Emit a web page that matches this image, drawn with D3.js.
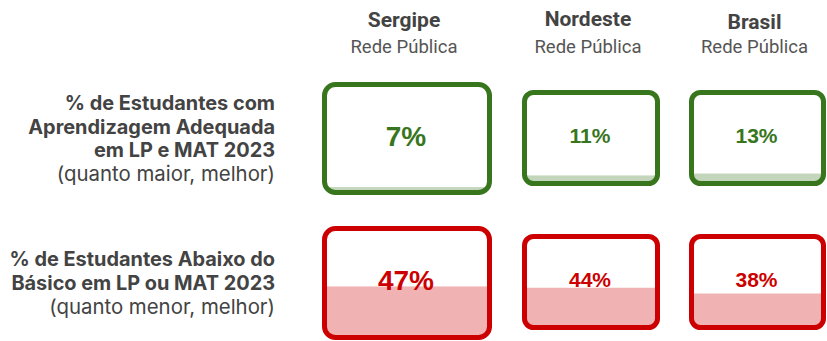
<!DOCTYPE html>
<html>
<head>
<meta charset="utf-8">
<script src="https://cdn.jsdelivr.net/npm/d3@7"></script>
<style>
  body { margin: 0; background: #fff; }
  svg { display: block; }
</style>
</head>
<body>
<svg id="chart" width="827" height="341"></svg>
<script>
// Indicator values by region (percent of public-school students)
const regions = ["Sergipe", "Nordeste", "Brasil"];
const networks = ["Rede Pública", "Rede Pública", "Rede Pública"];
const adequate = [7, 11, 13];      // aprendizagem adequada em LP e MAT
const belowBasic = [47, 44, 38];   // abaixo do básico em LP ou MAT
const rowTitles = [
  ["% de Estudantes com", "Aprendizagem Adequada", "em LP e MAT 2023"],
  ["% de Estudantes Abaixo do", "Básico em LP ou MAT 2023"]
];
const rowNotes = ["(quanto maior, melhor)", "(quanto menor, melhor)"];

// Layout
const colLeft = [322, 522, 689];
const colWidth = [170, 138, 137];
const headBase = [27, 26, 29];
const rows = [
  { values: adequate, stroke: "#38761d", focal: [82, 195], other: [90, 186],
    titleBase: 110, lineGap: 23.5 },
  { values: belowBasic, stroke: "#cc0000", focal: [226, 340], other: [234, 330],
    titleBase: 266, lineGap: 24 }
];
const sw = 5;

const svg = d3.select("#chart");
const defs = svg.append("defs");

// Column headers
const head = svg.append("g");
regions.forEach((r, i) => {
  const cx = colLeft[i] + colWidth[i] / 2 - 3;
  head.append("text")
    .attr("x", cx).attr("y", headBase[i])
    .attr("text-anchor", "middle")
    .style("font-family", "Roboto, sans-serif")
    .style("font-weight", 700).style("font-size", "21px")
    .style("fill", "#434343")
    .text(r);
  head.append("text")
    .attr("x", cx).attr("y", 53)
    .attr("text-anchor", "middle")
    .style("font-family", "Roboto, sans-serif")
    .style("font-weight", 400).style("font-size", "18.5px")
    .style("fill", "#555")
    .text(networks[i]);
});

// Row labels
rows.forEach((row, ri) => {
  const g = svg.append("g")
    .style("font-family", "Inter, sans-serif")
    .style("fill", "#434343")
    .attr("text-anchor", "end");
  const lines = rowTitles[ri];
  lines.forEach((t, li) => {
    g.append("text")
      .attr("x", 275).attr("y", row.titleBase + li * row.lineGap)
      .style("font-weight", 700).style("font-size", "19.9px")
      .text(t);
  });
  g.append("text")
    .attr("x", 275).attr("y", row.titleBase + lines.length * row.lineGap)
    .style("font-weight", 400).style("font-size", "20.4px")
    .text(rowNotes[ri]);
});

// Value boxes: rounded frame with a bottom fill proportional to the value
rows.forEach((row, ri) => {
  row.values.forEach((v, i) => {
    const [top, bottom] = i === 0 ? row.focal : row.other;
    const x0 = colLeft[i], w = colWidth[i];
    const y = d3.scaleLinear().domain([0, 100]).range([bottom, top]);
    const rx = i === 0 ? 11 : 9;
    const id = `clip-${ri}-${i}`;
    defs.append("clipPath").attr("id", id)
      .append("rect")
      .attr("x", x0 + sw / 2).attr("y", top + sw / 2)
      .attr("width", w - sw).attr("height", bottom - top - sw)
      .attr("rx", rx);

    const g = svg.append("g");
    g.append("rect")
      .attr("clip-path", `url(#${id})`)
      .attr("x", x0).attr("width", w)
      .attr("y", y(v)).attr("height", y(0) - y(v))
      .attr("fill", row.stroke).attr("fill-opacity", 0.3);
    g.append("rect")
      .attr("x", x0 + sw / 2).attr("y", top + sw / 2)
      .attr("width", w - sw).attr("height", bottom - top - sw)
      .attr("rx", rx)
      .attr("fill", "none")
      .attr("stroke", row.stroke).attr("stroke-width", sw);

    const fs = i === 0 ? 28 : 21;
    const cy = (top + bottom) / 2 - 3;
    g.append("text")
      .attr("x", x0 + w / 2 - 1)
      .attr("y", cy + fs * 0.36)
      .attr("text-anchor", "middle")
      .style("font-family", "'Liberation Sans', Arial, sans-serif")
      .style("font-weight", 700).style("font-size", fs + "px")
      .style("fill", row.stroke)
      .text(v + "%");
  });
});
</script>
</body>
</html>
